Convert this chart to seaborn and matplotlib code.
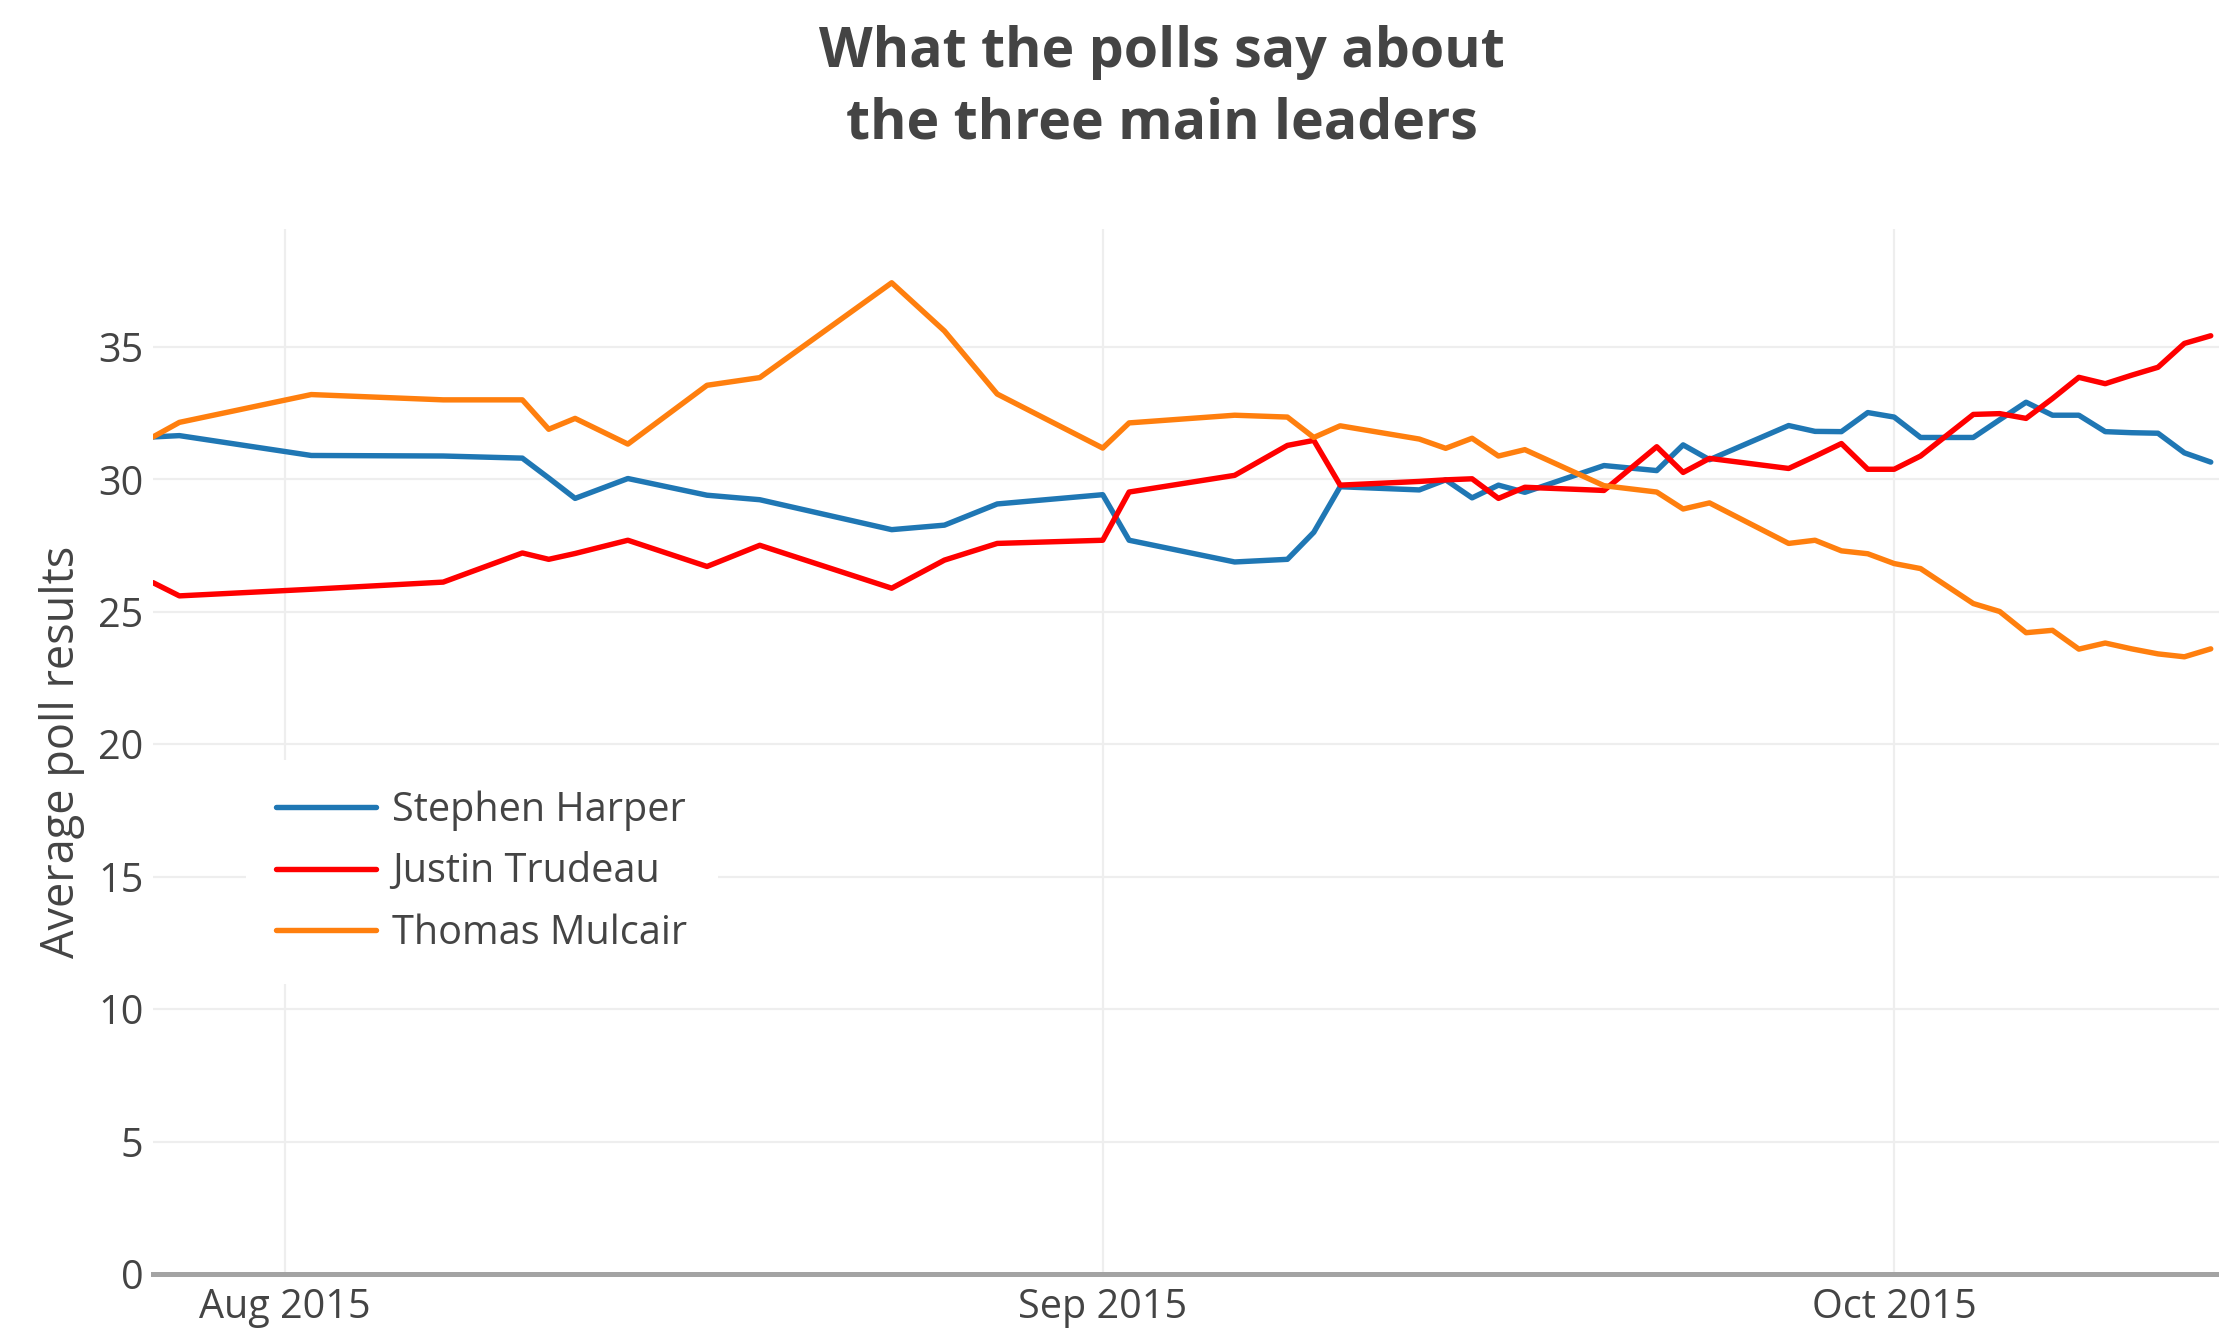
import matplotlib
matplotlib.use("Agg")
import matplotlib.pyplot as plt
import pandas as pd
import seaborn as sns

# Poll averages per leader (percent)
dates = [
    "2015-07-27", "2015-07-28", "2015-08-02", "2015-08-07", "2015-08-10",
    "2015-08-11", "2015-08-12", "2015-08-14", "2015-08-17", "2015-08-19",
    "2015-08-24", "2015-08-26", "2015-08-28", "2015-09-01", "2015-09-02",
    "2015-09-06", "2015-09-08", "2015-09-09", "2015-09-10", "2015-09-13",
    "2015-09-14", "2015-09-15", "2015-09-16", "2015-09-17", "2015-09-20",
    "2015-09-22", "2015-09-23", "2015-09-24", "2015-09-27", "2015-09-28",
    "2015-09-29", "2015-09-30", "2015-10-01", "2015-10-02", "2015-10-04",
    "2015-10-05", "2015-10-06", "2015-10-07", "2015-10-08", "2015-10-09",
    "2015-10-10", "2015-10-11", "2015-10-12", "2015-10-13",
]
harper = [
    31.6, 31.65, 30.9, 30.88, 30.8, 30.05, 29.28, 30.03, 29.4, 29.23,
    28.1, 28.27, 29.07, 29.42, 27.7, 26.88, 26.98, 28.0, 29.72, 29.6,
    29.98, 29.3, 29.78, 29.51, 30.52, 30.33, 31.3, 30.74, 32.03, 31.81,
    31.8, 32.52, 32.35, 31.58, 31.58, 32.25, 32.91, 32.42, 32.42, 31.8,
    31.76, 31.74, 31.0, 30.65,
]
trudeau = [
    26.1, 25.6, 25.85, 26.12, 27.22, 26.98, 27.2, 27.7, 26.71, 27.51,
    25.89, 26.95, 27.58, 27.7, 29.52, 30.15, 31.28, 31.47, 29.78, 29.92,
    29.98, 30.02, 29.28, 29.7, 29.58, 31.23, 30.26, 30.79, 30.41, 30.87,
    31.35, 30.38, 30.38, 30.88, 32.45, 32.48, 32.3, 33.05, 33.85, 33.61,
    33.93, 34.23, 35.13, 35.42,
]
mulcair = [
    31.6, 32.15, 33.2, 33.0, 33.0, 31.89, 32.3, 31.33, 33.55, 33.84,
    37.42, 35.6, 33.22, 31.18, 32.13, 32.42, 32.35, 31.58, 32.02, 31.52,
    31.17, 31.55, 30.88, 31.12, 29.76, 29.52, 28.88, 29.11, 27.58, 27.7,
    27.3, 27.19, 26.82, 26.63, 25.31, 25.01, 24.21, 24.3, 23.59, 23.82,
    23.6, 23.41, 23.3, 23.6,
]

leaders = ["Stephen Harper", "Justin Trudeau", "Thomas Mulcair"]
colors = ["#1f77b4", "#ff0000", "#ff7f0e"]
y_ticks = [0, 5, 10, 15, 20, 25, 30, 35]
x_tick_dates = ["2015-08-01", "2015-09-01", "2015-10-01"]
x_tick_labels = ["Aug 2015", "Sep 2015", "Oct 2015"]

wide = pd.DataFrame({
    "date": pd.to_datetime(dates),
    leaders[0]: harper,
    leaders[1]: trudeau,
    leaders[2]: mulcair,
})
df = wide.melt(id_vars="date", var_name="leader", value_name="value")

sns.set_theme(style="white")
plt.rcParams["font.family"] = ["Open Sans", "DejaVu Sans"]

TEXT = "#444444"
W, H = 2219, 1328
fig = plt.figure(figsize=(W / 100, H / 100), dpi=100, facecolor="white")
ax = fig.add_axes([153 / W, 54 / H, 1 - 153 / W, (1274 - 229) / H])

sns.lineplot(
    data=df, x="date", y="value", hue="leader", hue_order=leaders,
    palette=colors, linewidth=3.9, estimator=None, errorbar=None, ax=ax,
)

ax.set_ylim(0, 39.45)
ax.set_xlim(pd.Timestamp("2015-07-27"), pd.Timestamp("2015-10-13 07:30"))
ax.set_yticks(y_ticks)
ax.set_xticks(pd.to_datetime(x_tick_dates))
ax.set_xticklabels(x_tick_labels)

ax.grid(True, color="#eeeeee", linewidth=1.6)
ax.set_axisbelow(True)
for side in ("top", "right", "left"):
    ax.spines[side].set_visible(False)
ax.spines["bottom"].set_color("#a3a3a3")
ax.spines["bottom"].set_linewidth(3.6)

ax.tick_params(axis="both", length=0, labelsize=28.5, labelcolor=TEXT)
ax.tick_params(axis="x", pad=10)
ax.tick_params(axis="y", pad=7)

ax.set_xlabel("")
ax.set_ylabel("Average poll results", fontsize=32.5, color=TEXT)
ax.yaxis.set_label_coords(-0.033, 0.5)

handles, labels = ax.get_legend_handles_labels()
leg = ax.legend(
    handles, labels, loc="upper left",
    bbox_to_anchor=(246 / W, 1 - 760 / H), bbox_transform=fig.transFigure,
    frameon=True, fancybox=False, framealpha=1, facecolor="white",
    edgecolor="none", fontsize=28.5, handlelength=2.53, handletextpad=0.41,
    borderpad=0.76, labelspacing=0.54, borderaxespad=0,
)
for t in leg.get_texts():
    t.set_color(TEXT)
for line in leg.get_lines():
    line.set_linewidth(3.9)

fig.text(
    0.5235, 1 - 138.3 / H, "What the polls say about\nthe three main leaders",
    ha="center", va="baseline", fontsize=40, fontweight="bold",
    color=TEXT, linespacing=1.38,
)

fig.savefig("out.png", dpi=100, facecolor="white")
